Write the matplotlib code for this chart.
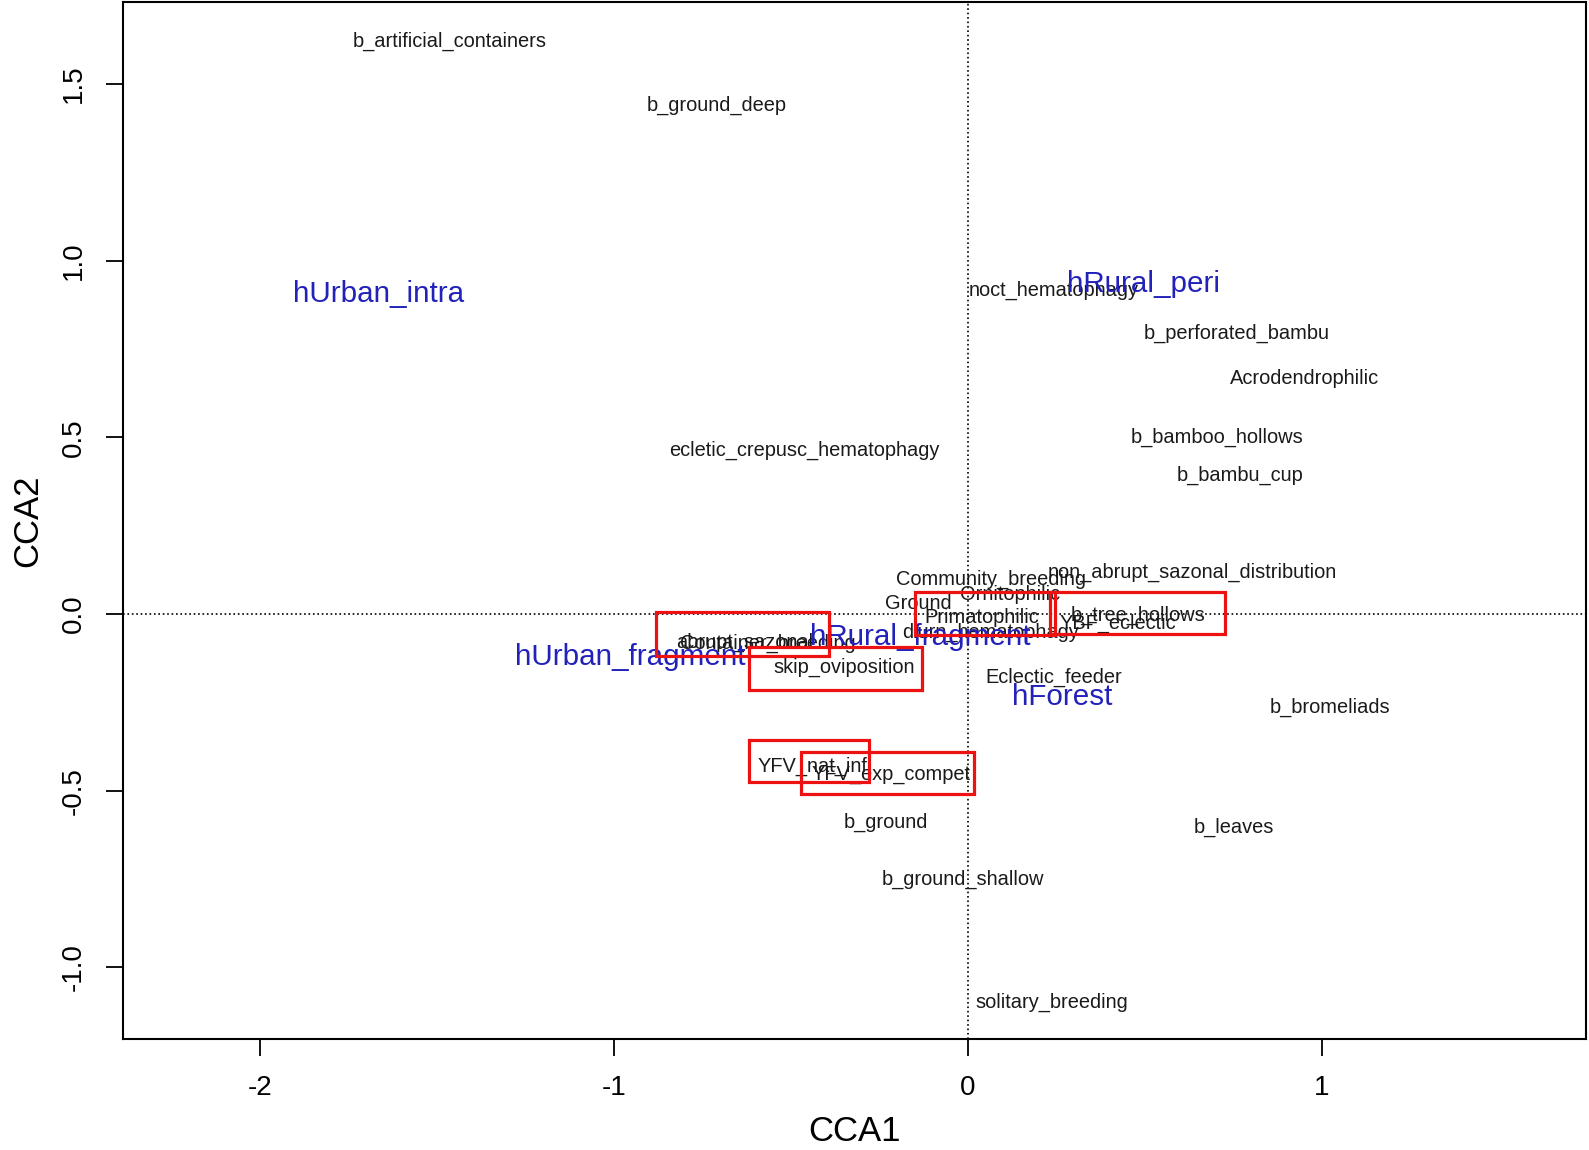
import matplotlib as mpl
mpl.use('Agg')
import matplotlib.pyplot as plt
from matplotlib.patches import Rectangle

plt.rcParams['font.family'] = ['Liberation Sans', 'DejaVu Sans']

# species trait scores (black labels)
trait_labels = ['b_artificial_containers', 'b_ground_deep', 'noct_hematophagy',
                'b_perforated_bambu', 'Acrodendrophilic', 'ecletic_crepusc_hematophagy',
                'b_bamboo_hollows', 'b_bambu_cup', 'Community_breeding',
                'non_abrupt_sazonal_distribution', 'Ornitophilic', 'Ground',
                'Primatophilic', 'b_tree_hollows', 'YBF_eclectic', 'diurn_hematophagy',
                'abrupt_sazonal', 'Container_breeding', 'skip_oviposition',
                'Eclectic_feeder', 'b_bromeliads', 'YFV_nat_inf', 'YFV_exp_compet',
                'b_ground', 'b_leaves', 'b_ground_shallow', 'solitary_breeding']
trait_x = [-1.463, -0.710, 0.243, 0.759, 0.950, -0.461, 0.704, 0.770, 0.066,
           0.633, 0.120, -0.140, 0.040, 0.481, 0.424, 0.063,
           -0.630, -0.565, -0.349, 0.243, 1.022, -0.438, -0.218,
           -0.232, 0.753, -0.014, 0.238]
trait_y = [1.622, 1.441, 0.917, 0.793, 0.667, 0.463, 0.501, 0.392, 0.099,
           0.119, 0.056, 0.030, -0.010, -0.004, -0.027, -0.053,
           -0.079, -0.082, -0.150, -0.179, -0.265, -0.431, -0.454,
           -0.589, -0.603, -0.750, -1.099]

# habitat scores (blue labels)
habitat_labels = ['hUrban_intra', 'hRural_peri', 'hRural_fragment', 'hUrban_fragment', 'hForest']
habitat_x = [-1.666, 0.495, -0.135, -0.953, 0.266]
habitat_y = [0.905, 0.934, -0.064, -0.122, -0.236]

# highlighted regions (x0, x1, y0, y1)
boxes = [(-0.882, -0.392, -0.118, 0.006),
         (-0.618, -0.129, -0.215, -0.092),
         (-0.149, 0.246, -0.060, 0.063),
         (0.232, 0.727, -0.057, 0.063),
         (-0.618, -0.278, -0.476, -0.356),
         (-0.472, 0.017, -0.510, -0.390)]

fig = plt.figure(figsize=(15.89, 11.5), dpi=100, facecolor='w')
ax = fig.add_axes([0.0774, 0.0965, 0.9206, 0.9017])

ax.axhline(0, color='k', ls=':', lw=1.2)
ax.axvline(0, color='k', ls=':', lw=1.2)

for lab, x, y in zip(trait_labels, trait_x, trait_y):
    ax.text(x, y, lab, ha='center', va='center', fontsize=14.4, color='#1a1a1a')
for lab, x, y in zip(habitat_labels, habitat_x, habitat_y):
    ax.text(x, y, lab, ha='center', va='center', fontsize=21.3, color='#2222bb')

for x0, x1, y0, y1 in boxes:
    ax.add_patch(Rectangle((x0, y0), x1 - x0, y1 - y0, fill=False, ec='#ee1111', lw=2.3, zorder=5))

ax.set_xlim(-2.387, 1.746)
ax.set_ylim(-1.203, 1.732)
ax.set_xticks([-2, -1, 0, 1])
ax.set_xticklabels(['-2', '-1', '0', '1'])
ax.set_yticks([-1.0, -0.5, 0.0, 0.5, 1.0, 1.5])
ax.set_yticklabels(['-1.0', '-0.5', '0.0', '0.5', '1.0', '1.5'], rotation=90, va='center')
ax.tick_params(direction='out', length=12, width=1.3, labelsize=20, pad=14)
for s in ax.spines.values():
    s.set_linewidth(1.5)
ax.set_xlabel('CCA1', fontsize=25, labelpad=10)
ax.set_ylabel('CCA2', fontsize=25, labelpad=12)

plt.savefig('out.png', dpi=100)
